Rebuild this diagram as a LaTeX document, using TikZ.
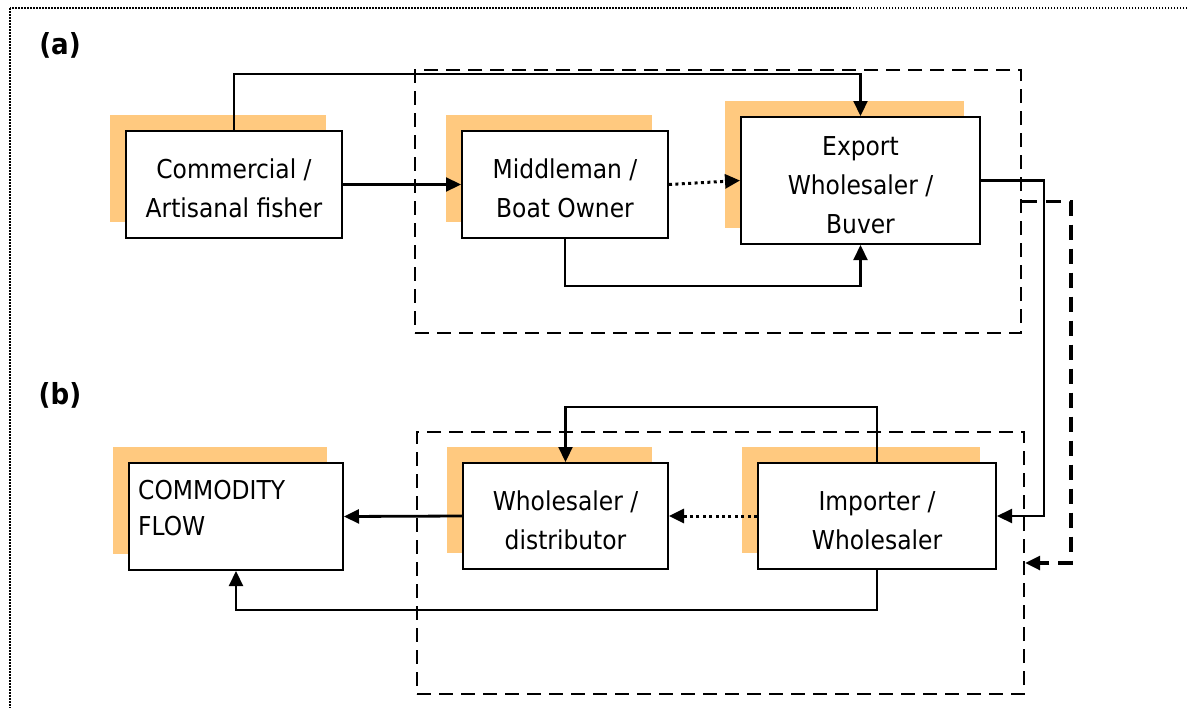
\documentclass[tikz,border=0pt]{standalone}
\usepackage{fontspec}
\setmainfont{DejaVu Sans Condensed}
\usetikzlibrary{arrows.meta,shadows}
\definecolor{shad}{RGB}{255,201,127}
\newcommand{\tpstrut}{\rule{0pt}{28pt}}
\tikzset{
  box/.style={draw=black, line width=2pt, fill=white, inner sep=0pt, align=center,
    font=\fontsize{26}{39}\selectfont,
    general shadow={fill=shad, shadow xshift=-16pt, shadow yshift=16pt}},
  plainbox/.style={draw=black, line width=2pt, fill=white, inner sep=0pt,
    general shadow={fill=shad, shadow xshift=-16pt, shadow yshift=16pt}},
  grp/.style={draw=black, line width=2.4pt, dash pattern=on 14pt off 8pt, inner sep=0pt},
  tip/.style={-{Triangle[length=15pt,width=14pt]}},
  conn/.style={line width=2.2pt, tip},
  dotconn/.style={line width=3pt, dash pattern=on 3pt off 3.4pt, tip},
  thickdash/.style={line width=3.2pt, dash pattern=on 15pt off 9pt, tip},
  lbl/.style={font=\bfseries\fontsize{29}{32}\selectfont, inner sep=0pt}
}
\begin{document}
\begin{tikzpicture}[x=1pt,y=-1pt]
\useasboundingbox (0,0) rectangle (1189,707);
\clip (0,0) rectangle (1189,707);
\fill[white] (0,0) rectangle (1189,707);
\draw[line width=1.2pt, dash pattern=on 1.5pt off 1.5pt] (10,8) rectangle (1210,730);

\node[lbl] (la) at (60,45) {(a)};
\node[lbl] (lb) at (60,395) {(b)};

% group boxes
\node[grp, minimum width=606pt, minimum height=263pt] (ga) at (718,201.5) {};
\node[grp, minimum width=607pt, minimum height=262pt] (gb) at (720.5,563) {};

% nodes
\node[box, minimum width=216pt, minimum height=107pt] (comm) at (234,184.5) {\tpstrut Commercial /\\Artisanal fisher};
\node[box, minimum width=206pt, minimum height=107pt] (mid) at (565,184.5) {\tpstrut Middleman /\\Boat Owner};
\node[box, minimum width=239pt, minimum height=127pt] (exp) at (860.5,180.5) {\tpstrut Export\\Wholesaler /\\Buver};

\node[plainbox, minimum width=214pt, minimum height=107pt] (com) at (236,516.5) {};
\node[anchor=north west, align=left, inner sep=0pt, font=\fontsize{26}{36}\selectfont] (comtxt) at (138,480) {COMMODITY\\FLOW};
\node[box, minimum width=205pt, minimum height=106pt] (whd) at (565.5,516) {\tpstrut Wholesaler /\\distributor};
\node[box, minimum width=238pt, minimum height=106pt] (imp) at (877,516) {\tpstrut Importer /\\Wholesaler};

% connectors (a)
\coordinate (topy) at (0,74);
\coordinate (boty) at (0,286);
\draw[conn] (comm.north) -- (comm.north |- topy) -| (exp.north);
\draw[conn] (comm.east) -- (mid.west);
\draw[dotconn] (mid.east) -- (exp.west);
\draw[conn] (mid.south) -- (mid.south |- boty) -| (exp.south);

% between (a) and (b)
\coordinate (rx) at (1044,0);
\draw[conn] (exp.east) -- (exp.east -| rx) |- (imp.east);
\coordinate (dx) at (1071,0);
\draw[thickdash] (ga.east) -- (ga.east -| dx) |- (gb.east);

% connectors (b)
\coordinate (topb) at (0,407);
\coordinate (botb) at (0,610);
\draw[conn] (imp.north) -- (imp.north |- topb) -| (whd.north);
\draw[dotconn] (imp.west) -- (whd.east);
\draw[conn, line width=2.8pt] (whd.west) -- (com.east);
\draw[conn] (imp.south) -- (imp.south |- botb) -| (com.south);
\end{tikzpicture}
\end{document}
